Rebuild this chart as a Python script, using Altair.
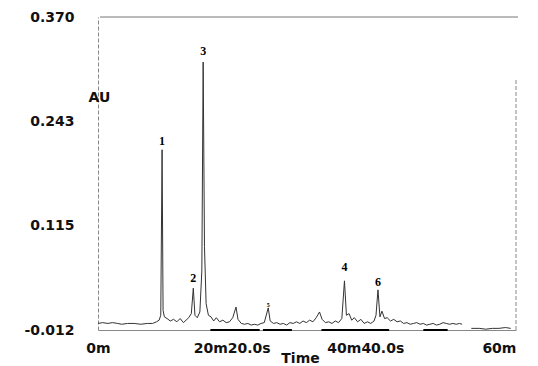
import altair as alt
import pandas as pd

# chromatogram trace (minutes, AU)
times = [0.0, 0.7, 1.5, 2.2, 3.0, 3.6, 4.5, 5.5, 6.5, 7.5, 8.3, 8.9, 9.3, 9.55, 9.75, 9.9,
         10.1, 10.5, 11.0, 11.5, 12.0, 12.5, 13.0, 13.4, 13.8, 14.2, 14.5, 14.75, 15.1, 15.5,
         15.8, 16.0, 16.2, 16.45, 16.8, 17.2, 17.6, 18.0, 18.5, 19.0, 19.5, 20.0, 20.5, 21.0,
         21.3, 21.8, 22.3, 22.8, 23.3, 23.8, 24.3, 24.8, 25.3, 25.9, 26.2, 26.7, 27.2, 27.7,
         28.2, 28.7, 29.2, 29.7, 30.2, 30.7, 31.2, 31.7, 32.2, 32.7, 33.2, 33.7, 34.1, 34.6,
         35.1, 35.6, 36.1, 36.6, 37.1, 37.5, 37.8, 38.2, 38.6, 39.0, 39.5, 40.0, 40.5, 41.0,
         41.5, 42.0, 42.3, 42.6, 42.9, 43.2, 43.6, 44.0, 44.5, 45.0, 45.5, 46.0, 46.5, 47.0,
         47.5, 48.0, 48.5, 49.0, 49.5, 50.0, 50.5, 51.0, 51.5, 52.0, 52.5, 53.0, 53.5, 54.0,
         54.5, 55.0, 55.4,
         56.8, 58.0, 59.0, 60.0, 61.0, 62.0, 62.8]
values = [-0.004, -0.003, -0.004, -0.003, -0.004, -0.005, -0.004, -0.004, -0.005, -0.004, -0.004, -0.002, 0.000, 0.006, 0.208, 0.012,
          0.004, 0.002, -0.001, 0.001, -0.002, 0.002, -0.003, 0.000, 0.003, 0.008, 0.039, 0.006, 0.003, 0.010,
          0.060, 0.315, 0.090, 0.020, 0.006, 0.004, -0.001, 0.003, -0.002, 0.000, -0.003, -0.002, 0.003, 0.016,
          0.001, -0.004, -0.005, -0.004, -0.006, -0.005, -0.006, -0.004, -0.003, 0.015, -0.001, -0.004, -0.003, -0.005,
          -0.004, -0.006, -0.003, -0.004, -0.002, -0.004, -0.001, -0.003, 0.000, -0.002, 0.003, 0.010, 0.001, -0.003,
          -0.002, -0.004, -0.001, -0.003, 0.002, 0.048, 0.006, 0.008, 0.000, 0.003, -0.002, 0.001, -0.004, -0.002,
          -0.004, -0.001, 0.006, 0.037, 0.004, 0.011, 0.002, 0.003, -0.001, 0.001, -0.002, -0.001, -0.004, -0.003,
          -0.005, -0.004, -0.003, -0.005, -0.004, -0.006, -0.005, -0.004, -0.006, -0.005, -0.003, -0.004, -0.005, -0.004,
          -0.005, -0.004, -0.005,
          -0.010, -0.010, -0.011, -0.010, -0.010, -0.009, -0.010]
segments = [0] * 117 + [1] * 7

# peak labels
peak_labels = ["1", "2", "3", "4", "5", "6"]
peak_t = [9.75, 14.5, 16.0, 37.5, 25.9, 42.6]
peak_v = [0.219, 0.051, 0.329, 0.065, 0.018, 0.046]
peak_size = [12, 12, 12, 12, 6, 12]

# integration baseline segments on the time axis
base_start = [17.1, 25.1, 34.0, 49.5]
base_end = [24.6, 29.5, 44.3, 53.2]

# axes
x_ticks = [0, 20.333, 40.667, 61]
x_tick_labels = ["0m", "20m20.0s", "40m40.0s", "60m"]
y_ticks = [-0.012, 0.115, 0.243, 0.370]
x_domain = [0, 63.6]
y_domain = [-0.012, 0.370]

W, H = 418, 313
FONT = "DejaVu Sans"

trace = pd.DataFrame({"t": times, "v": values, "seg": segments})
peaks = pd.DataFrame({"t": peak_t, "v": peak_v, "label": peak_labels, "size": peak_size})
bases = pd.DataFrame({"t0": base_start, "t1": base_end})
one = pd.DataFrame({"a": [0]})

label_expr = ""
for i, (tv, lab) in enumerate(zip(x_ticks, x_tick_labels)):
    if i < len(x_ticks) - 1:
        mid = (tv + x_ticks[i + 1]) / 2
        label_expr += f"datum.value < {mid} ? '{lab}' : "
    else:
        label_expr += f"'{lab}'"

y_label_expr = "replace(format(datum.value, '.3f'), '\u2212', '-')"

xscale = alt.Scale(domain=x_domain, nice=False, zero=False)
yscale = alt.Scale(domain=y_domain, nice=False, zero=False)

xaxis = alt.Axis(values=x_ticks, labelExpr=label_expr, ticks=False, grid=False,
                 domainColor="#888888", labelFont=FONT, labelFontSize=14,
                 labelFontWeight="bold", labelColor="#111111", labelPadding=11,
                 labelFlush=False, labelOverlap=False, title="Time",
                 titleFont=FONT, titleFontSize=14, titleFontWeight="bold",
                 titleColor="#111111",
                 titleX=202, titleY=28, titleAlign="center", titleBaseline="middle")
yaxis = alt.Axis(values=y_ticks, labelExpr=y_label_expr, ticks=False, grid=False,
                 domainColor="#888888", domainDash=[4, 2], labelFont=FONT,
                 labelFontSize=14, labelFontWeight="bold", labelColor="#111111",
                 labelPadding=24, labelFlush=False, labelOverlap=False, title="AU",
                 titleFont=FONT, titleFontSize=14, titleFontWeight="bold",
                 titleColor="#111111",
                 titleAngle=0, titleX=1, titleY=80, titleAlign="center",
                 titleBaseline="middle")

line = alt.Chart(trace).mark_line(color="#333333", strokeWidth=1).encode(
    x=alt.X("t:Q", scale=xscale, axis=xaxis),
    y=alt.Y("v:Q", scale=yscale, axis=yaxis),
    detail="seg:N",
    order="t:Q",
)

base_rules = alt.Chart(bases).mark_rule(color="black", strokeWidth=2).encode(
    x=alt.X("t0:Q", scale=xscale),
    x2="t1:Q",
    y=alt.value(H),
)

labels = alt.Chart(peaks).mark_text(font="Liberation Serif", fontWeight="bold",
                                    baseline="middle", color="black").encode(
    x=alt.X("t:Q", scale=xscale),
    y=alt.Y("v:Q", scale=yscale),
    text="label:N",
    size=alt.Size("size:Q", scale=None),
)

top_rule = alt.Chart(one).mark_rule(color="#777777", strokeWidth=1).encode(
    x=alt.value(2), x2=alt.value(W + 2), y=alt.value(0))
right_rule = alt.Chart(one).mark_rule(color="#888888", strokeWidth=1, strokeDash=[4, 2]).encode(
    x=alt.value(W), y=alt.value(63), y2=alt.value(H))

chart = alt.layer(top_rule, right_rule, base_rules, line, labels).properties(
    width=W, height=H,
    autosize=alt.AutoSizeParams(type="none"),
    padding={"left": 90, "top": 9, "right": 14, "bottom": 36},
).configure_view(stroke=None)

chart.save("out.html", embed_options={"renderer": "svg", "actions": False})
